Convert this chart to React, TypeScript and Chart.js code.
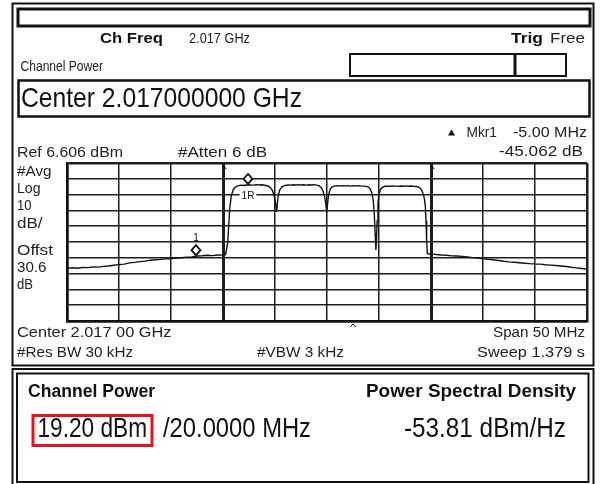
import React, { useEffect, useRef } from "react";
import { Chart, registerables } from "chart.js";

Chart.register(...registerables);

const CENTER_GHZ = 2.017;
const SPAN_MHZ = 50;
const REF_LEVEL_DBM = 6.606;
const DB_PER_DIV = 10;

const X_TICKS_MHZ = [-25, -20, -15, -10, -5, 0, 5, 10, 15, 20, 25];
const Y_TICKS_DBM = [6.606, -3.394, -13.394, -23.394, -33.394, -43.394, -53.394, -63.394, -73.394, -83.394, -93.394];
const CHANNEL_EDGES_MHZ = [-10, 10];

const FREQ_MHZ = [
  -25.0, -24.5, -24.0, -23.5, -23.0, -22.5, -22.0, -21.5, -21.0, -20.5,
  -20.0, -19.5, -19.0, -18.5, -18.0, -17.5, -17.0, -16.5, -16.0, -15.5,
  -15.0, -14.5, -14.0, -13.5, -13.0, -12.5, -12.0, -11.5, -11.0, -10.5,
  -10.0, -9.75, -9.55, -9.45, -9.35, -9.2, -9.0, -8.75, -8.5,
  -8.25, -8.0, -7.75, -7.5, -7.25, -7.0, -6.75, -6.5, -6.25, -6.0, -5.75,
  -5.5, -5.3, -5.15, -5.0, -4.9, -4.85, -4.78, -4.7, -4.55, -4.35, -4.1,
  -3.75, -3.5, -3.25, -3.0, -2.75, -2.5, -2.25, -2.0, -1.75, -1.5, -1.25, -1.0,
  -0.75, -0.55, -0.38, -0.22, -0.1, -0.03, 0.05, 0.15, 0.3, 0.5, 0.75,
  1.0, 1.25, 1.5, 1.75, 2.0, 2.25, 2.5, 2.75, 3.0, 3.25, 3.5, 3.75,
  4.0, 4.15, 4.3, 4.45, 4.55, 4.63, 4.7, 4.76, 4.82, 4.9, 5.0, 5.15, 5.35, 5.6,
  5.85, 6.1, 6.35, 6.6, 6.85, 7.1, 7.35, 7.6, 7.85, 8.1, 8.35, 8.6,
  8.85, 9.05, 9.2, 9.35, 9.45, 9.52, 9.58, 9.65, 9.8,
  10.0, 10.5, 11.0, 11.5, 12.0, 12.5, 13.0, 13.5, 14.0, 14.5, 15.0, 15.5,
  16.0, 16.5, 17.0, 17.5, 18.0, 18.5, 19.0, 19.5, 20.0, 20.5, 21.0, 21.5,
  22.0, 22.5, 23.0, 23.5, 24.0, 24.5, 25.0,
];

const LEVEL_DBM = [
  -60.1, -59.7, -60.0, -59.5, -59.6, -59.2, -59.3, -58.8, -58.6, -58.1,
  -57.7, -57.4, -56.6, -56.3, -55.8, -55.5, -54.9, -54.6, -54.4, -54.1,
  -54.0, -53.6, -53.4, -53.0, -52.8, -52.3, -52.1, -51.8, -52.0, -51.6,
  -51.7, -51.4, -44.0, -33.0, -22.0, -14.0, -10.0, -8.3, -7.7,
  -7.4, -7.6, -7.3, -7.2, -7.4, -7.3, -7.1, -7.3, -7.2, -7.5, -7.8,
  -8.6, -10.2, -12.5, -16.5, -21.0, -24.2, -20.0, -14.5, -10.5, -8.6, -7.7,
  -7.3, -7.4, -7.2, -7.3, -7.1, -7.3, -7.2, -7.4, -7.2, -7.3, -7.1, -7.4,
  -7.9, -9.0, -11.3, -15.0, -20.0, -24.8, -19.5, -13.5, -10.0, -8.5, -7.9,
  -7.8, -7.9, -7.7, -7.9, -7.8, -8.0, -7.8, -7.9, -7.7, -7.9, -8.0, -8.2,
  -8.6, -9.8, -12.0, -17.0, -26.0, -38.0, -48.5, -42.0, -30.0, -19.0, -13.0, -10.0, -8.7, -8.1,
  -8.0, -8.1, -7.9, -8.0, -8.2, -8.0, -8.1, -7.9, -8.1, -8.0, -8.2, -8.3,
  -8.8, -10.0, -12.0, -15.5, -20.0, -30.0, -42.0, -50.8, -51.0,
  -50.9, -51.3, -51.6, -51.8, -52.2, -52.3, -52.5, -52.8, -53.3, -53.5, -54.0, -54.3,
  -54.6, -55.1, -55.6, -56.0, -56.2, -56.5, -56.8, -57.1, -57.3, -57.4, -57.8, -58.0,
  -58.3, -58.6, -58.9, -59.4, -59.8, -60.2, -60.5,
];

const MARKER_FREQ_MHZ = [-7.6, -12.6];
const MARKER_LEVEL_DBM = [-7.3, -52.36];
const MARKER_LABELS = ["1R", "1"];

const CHANNEL_POWER = "19.20 dBm";
const CHANNEL_BW = "/20.0000 MHz";
const PSD = "-53.81 dBm/Hz";

// ---- Drawing helpers ----
const SANS = '"Liberation Sans", Arial, "DejaVu Sans", sans-serif';
const INK = "#111";
const SOFT = "#222";

function fitText(
  ctx: CanvasRenderingContext2D,
  s: string,
  x0: number,
  x1: number,
  cy: number,
  font: string,
  color: string
) {
  ctx.save();
  ctx.font = font;
  ctx.fillStyle = color;
  ctx.textBaseline = "middle";
  ctx.textAlign = "left";
  const m = ctx.measureText(s).width || 1;
  ctx.translate(x0, cy);
  ctx.scale((x1 - x0) / m, 1);
  ctx.fillText(s, 0, 0);
  ctx.restore();
}

function rect(ctx: CanvasRenderingContext2D, x: number, y: number, w: number, h: number, lw: number, color = INK) {
  ctx.save();
  ctx.lineWidth = lw;
  ctx.strokeStyle = color;
  ctx.strokeRect(x, y, w, h);
  ctx.restore();
}

function hline(ctx: CanvasRenderingContext2D, x0: number, x1: number, y: number, lw: number) {
  ctx.save();
  ctx.lineWidth = lw;
  ctx.strokeStyle = INK;
  ctx.beginPath();
  ctx.moveTo(x0, y);
  ctx.lineTo(x1, y);
  ctx.stroke();
  ctx.restore();
}

const screenPlugin = {
  id: "screen",
  beforeDraw(chart: any) {
    const ctx: CanvasRenderingContext2D = chart.ctx;
    ctx.save();
    ctx.fillStyle = "#fff";
    ctx.fillRect(0, 0, chart.width, chart.height);
    ctx.restore();

    // upper panel
    rect(ctx, 12.5, 3.5, 581, 362, 2);
    hline(ctx, 12, 594, 369, 2);
    // top bar box
    rect(ctx, 18, 9, 572, 17, 3);
    // status boxes
    rect(ctx, 350, 54, 216, 22, 2);
    ctx.save();
    ctx.lineWidth = 3;
    ctx.strokeStyle = INK;
    ctx.beginPath();
    ctx.moveTo(515, 53);
    ctx.lineTo(515, 77);
    ctx.stroke();
    ctx.restore();
    // center entry box
    rect(ctx, 18.5, 80.5, 571, 36, 2.5);
    // lower panel
    rect(ctx, 12.5, 369, 581, 130, 2);
    rect(ctx, 17, 373.5, 571.5, 108.5, 2);
    // red highlight box
    rect(ctx, 33, 415.5, 119, 30, 3, "#e3141c");

    // ---- header texts ----
    const small = `14px ${SANS}`;
    const smallBold = `bold 14px ${SANS}`;
    fitText(ctx, "Ch Freq", 100, 163, 39, smallBold, INK);
    fitText(ctx, `${CENTER_GHZ.toFixed(3)} GHz`, 189, 250, 39, small, SOFT);
    fitText(ctx, "Trig", 511, 543, 39, smallBold, INK);
    fitText(ctx, "Free", 550, 585, 39, small, SOFT);
    fitText(ctx, "Channel Power", 20.5, 103, 67, small, SOFT);
    fitText(ctx, `Center ${CENTER_GHZ.toFixed(9)} GHz`, 21, 302, 99, `28px ${SANS}`, INK);

    // marker readout
    ctx.save();
    ctx.fillStyle = INK;
    ctx.beginPath();
    ctx.moveTo(451.5, 129.5);
    ctx.lineTo(455, 135.5);
    ctx.lineTo(448, 135.5);
    ctx.closePath();
    ctx.fill();
    ctx.restore();
    fitText(ctx, "Mkr1", 466.5, 497, 133, small, SOFT);
    fitText(ctx, "-5.00 MHz", 513, 587, 133, small, SOFT);
    fitText(ctx, "-45.062 dB", 499, 583, 152, small, SOFT);
    fitText(ctx, `Ref ${REF_LEVEL_DBM.toFixed(3)} dBm`, 17, 123, 153, small, SOFT);
    fitText(ctx, "#Atten 6 dB", 178, 267, 153, small, SOFT);

    const left: [string, number, number][] = [
      ["#Avg", 51.5, 172],
      ["Log", 40.5, 189],
      ["10", 31.5, 206],
      ["dB/", 42.5, 224],
      ["Offst", 53, 251],
      ["30.6", 46.5, 268],
      ["dB", 33, 285],
    ];
    left.forEach(([s, x1, y]) => fitText(ctx, s, 17, x1, y, small, SOFT));

    fitText(ctx, `Center ${CENTER_GHZ.toFixed(3)} 00 GHz`, 17, 171.5, 333, small, SOFT);
    fitText(ctx, "#Res BW 30 kHz", 17, 133, 353, small, SOFT);
    fitText(ctx, "#VBW 3 kHz", 257, 344, 353, small, SOFT);
    fitText(ctx, `Span ${SPAN_MHZ} MHz`, 493, 585, 333, small, SOFT);
    fitText(ctx, "Sweep 1.379 s", 477, 585, 353, small, SOFT);

    // result panel
    const bold = `bold 18px ${SANS}`;
    fitText(ctx, "Channel Power", 28, 155, 392, bold, INK);
    fitText(ctx, "Power Spectral Density", 366, 576, 392, bold, INK);
    const big = `27px ${SANS}`;
    fitText(ctx, CHANNEL_POWER, 37.5, 147, 430, big, INK);
    fitText(ctx, CHANNEL_BW, 163, 311, 430, big, INK);
    fitText(ctx, PSD, 404, 566, 430, big, INK);
  },
  afterDatasetsDraw(chart: any) {
    const ctx: CanvasRenderingContext2D = chart.ctx;
    const xs = chart.scales.x;
    const ys = chart.scales.y;
    const area = chart.chartArea;

    // small channel-edge flags at top
    ctx.save();
    ctx.strokeStyle = INK;
    ctx.lineWidth = 1;
    CHANNEL_EDGES_MHZ.forEach((f) => {
      const px = xs.getPixelForValue(f);
      ctx.beginPath();
      ctx.moveTo(px + 1, area.top + 3);
      ctx.lineTo(px + 3, area.top + 6);
      ctx.stroke();
    });
    // center-ish caret below the graticule
    const cx = xs.getPixelForValue(2.5);
    ctx.beginPath();
    ctx.moveTo(cx - 3, area.bottom + 6);
    ctx.lineTo(cx, area.bottom + 3);
    ctx.lineTo(cx + 3, area.bottom + 6);
    ctx.stroke();
    ctx.restore();

    MARKER_FREQ_MHZ.forEach((f, i) => {
      const px = xs.getPixelForValue(f);
      const py = ys.getPixelForValue(MARKER_LEVEL_DBM[i]);
      const h = 5;
      const cy = py - h - 1;
      ctx.save();
      ctx.fillStyle = "#fff";
      ctx.strokeStyle = INK;
      ctx.lineWidth = 1.8;
      ctx.beginPath();
      ctx.moveTo(px, cy - h);
      ctx.lineTo(px + h - 0.5, cy);
      ctx.lineTo(px, cy + h);
      ctx.lineTo(px - h + 0.5, cy);
      ctx.closePath();
      ctx.fill();
      ctx.stroke();
      const label = MARKER_LABELS[i];
      ctx.font = `10px ${SANS}`;
      ctx.textBaseline = "middle";
      ctx.textAlign = "center";
      if (label === "1R") {
        const ly = py + 11;
        const w = ctx.measureText(label).width + 4;
        ctx.fillStyle = "#fff";
        ctx.fillRect(px - w / 2, ly - 5, w, 10);
        ctx.fillStyle = INK;
        ctx.fillText(label, px, ly);
      } else {
        ctx.fillStyle = INK;
        ctx.fillText(label, px, cy - h - 7);
      }
      ctx.restore();
    });
  },
};

const gridWidth = (edgeIdx: number[], thickVals: number[]) => (c: any) => {
  if (edgeIdx.includes(c.index)) return 2.5;
  if (c.tick && thickVals.includes(c.tick.value)) return 3;
  return 1.5;
};

export default function App() {
  const ref = useRef<HTMLCanvasElement>(null);
  useEffect(() => {
    if (!ref.current) return;
    const chart = new Chart(ref.current, {
      type: "line",
      data: {
        datasets: [
          {
            data: FREQ_MHZ.map((f, i) => ({ x: f, y: LEVEL_DBM[i] })),
            borderColor: INK,
            borderWidth: 1.4,
            pointRadius: 0,
            tension: 0,
            fill: false,
          },
        ],
      },
      options: {
        animation: false,
        responsive: false,
        maintainAspectRatio: false,
        devicePixelRatio: 1,
        layout: { padding: { left: 67, top: 163, right: 14, bottom: 163 } },
        plugins: { legend: { display: false }, tooltip: { enabled: false } },
        scales: {
          x: {
            type: "linear",
            min: -SPAN_MHZ / 2,
            max: SPAN_MHZ / 2,
            afterBuildTicks: (s: any) => {
              s.ticks = X_TICKS_MHZ.map((v) => ({ value: v }));
            },
            ticks: { display: false },
            grid: {
              drawTicks: false,
              color: "#1e1e1e",
              lineWidth: gridWidth([0, X_TICKS_MHZ.length - 1], CHANNEL_EDGES_MHZ),
            },
            border: { display: true, width: 2.5, color: INK },
          },
          y: {
            type: "linear",
            min: REF_LEVEL_DBM - 10 * DB_PER_DIV,
            max: REF_LEVEL_DBM,
            afterBuildTicks: (s: any) => {
              s.ticks = Y_TICKS_DBM.map((v) => ({ value: v }));
            },
            ticks: { display: false },
            grid: {
              drawTicks: false,
              color: "#1e1e1e",
              lineWidth: gridWidth([0, Y_TICKS_DBM.length - 1], []),
            },
            border: { display: true, width: 2.5, color: INK },
          },
        },
      },
      plugins: [screenPlugin],
    } as any);
    return () => chart.destroy();
  }, []);
  return (
    <div style={{ position: "fixed", left: 0, top: 0, width: 601, height: 484, background: "#fff", overflow: "hidden" }}>
      <canvas ref={ref} width={601} height={484} style={{ display: "block", width: 601, height: 484 }} />
    </div>
  );
}
